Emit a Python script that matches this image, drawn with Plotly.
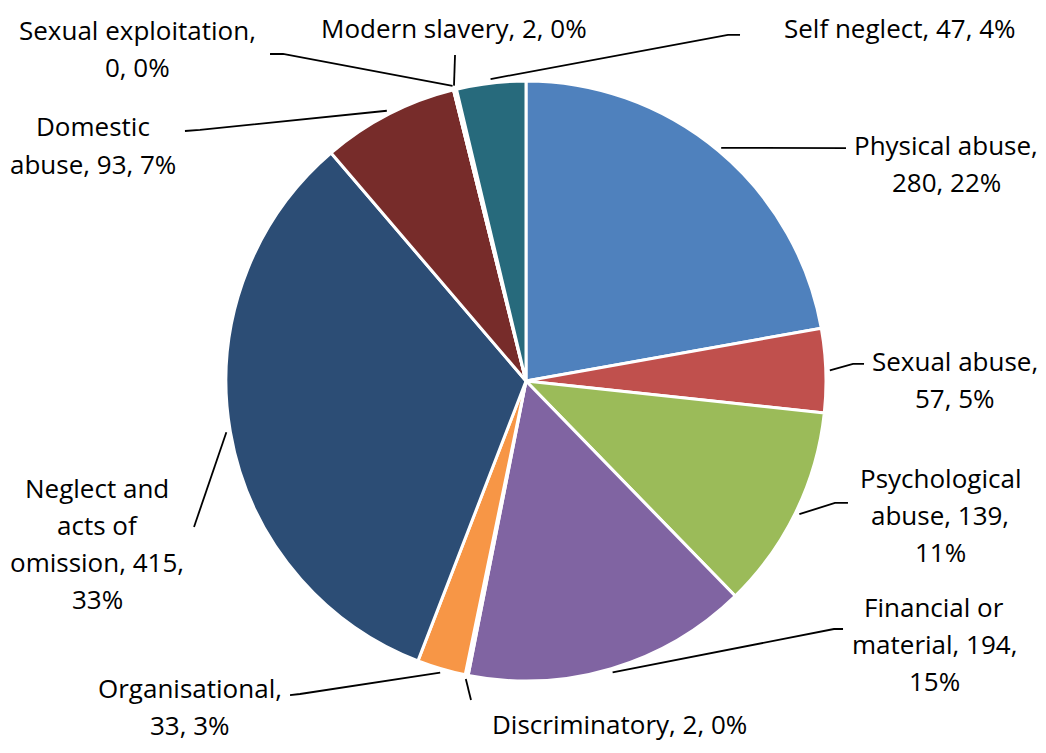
"""
pie of safeguarding concerns by abuse type, with Excel-style callout labels
"""
import math
import textwrap
import plotly.graph_objects as go

categories = ["Physical abuse", "Sexual abuse", "Psychological abuse",
              "Financial or material", "Discriminatory", "Organisational",
              "Neglect and acts of omission", "Domestic abuse",
              "Sexual exploitation", "Modern slavery", "Self neglect"]
values = [280, 57, 139, 194, 2, 33, 415, 93, 0, 2, 47]

colors = ["#4F81BD", "#C0504D", "#9BBB59", "#8064A2", "#4BACC6", "#F79646",
          "#2C4D75", "#772C2A", "#5F7530", "#4D3B62", "#276A7C"]

# layout of the callouts (page pixels): wrap width, label centre, elbow, line end
wrap_w = [16, 14, 14, 14, 30, 15, 14, 13, 20, 30, 30]
label_xy = [(946, 163), (955, 379), (940, 515), (934, 644), (619, 724),
            (190, 706), (97, 543), (93, 145), (137, 48), (454, 28), (900, 28)]
elbow_xy = [(846, 148), (853, 364), (835, 503), (834, 629), (471, 700),
            (300, 694), (194, 527), (200, 130), (283, 54), (455, 55), (728, 35)]
end_xy = [(846, 148), (864, 364), (848, 503), (843, 629), (471, 700),
          (290, 695), (194, 527), (185, 131), (270, 54), (455, 55), (740, 35)]
line_gap = 37

# the page body has an 8px margin, so the figure is drawn 8px in
OFF = 8
W, H = 1046 - 2 * OFF, 753 - 2 * OFF
cx, cy, R = 526, 381, 300


def px(x, y):
    return (x - OFF) / W, 1 - (y - OFF) / H


total = sum(values)

x0, y1 = px(cx - R, cy - R)
x1, y0 = px(cx + R, cy + R)
fig = go.Figure(go.Pie(
    labels=categories,
    values=values,
    sort=False,
    direction="clockwise",
    rotation=0,
    textinfo="none",
    hoverinfo="label+value+percent",
    marker=dict(colors=colors, line=dict(color="white", width=3)),
    domain=dict(x=[x0, x1], y=[y0, y1]),
    showlegend=False,
))

shapes = []
annotations = []
cum = 0
for i, (cat, v) in enumerate(zip(categories, values)):
    mid = (cum + v / 2) / total * 2 * math.pi
    cum += v
    sx = cx + (R + 4) * math.sin(mid)
    sy = cy - (R + 4) * math.cos(mid)
    pts = [(sx, sy), elbow_xy[i], end_xy[i]]
    path = "M " + " L ".join("%.4f,%.4f" % px(*p) for p in pts)
    shapes.append(dict(type="path", path=path, xref="paper", yref="paper",
                       line=dict(color="black", width=1.8)))
    pct = round(v / total * 100)
    lines = textwrap.wrap("%s, %d, %d%%" % (cat, v, pct), wrap_w[i])
    n = len(lines)
    for k, ln in enumerate(lines):
        lx, ly = px(label_xy[i][0], label_xy[i][1] + (k - (n - 1) / 2) * line_gap)
        annotations.append(dict(x=lx, y=ly, xref="paper", yref="paper", text=ln,
                                showarrow=False, xanchor="center", yanchor="middle",
                                font=dict(family="Open Sans", size=26, color="black")))

fig.update_layout(
    width=W, height=H,
    margin=dict(l=0, r=0, t=0, b=0),
    paper_bgcolor="white",
    plot_bgcolor="white",
    shapes=shapes,
    annotations=annotations,
)

fig.write_html("out.html")
